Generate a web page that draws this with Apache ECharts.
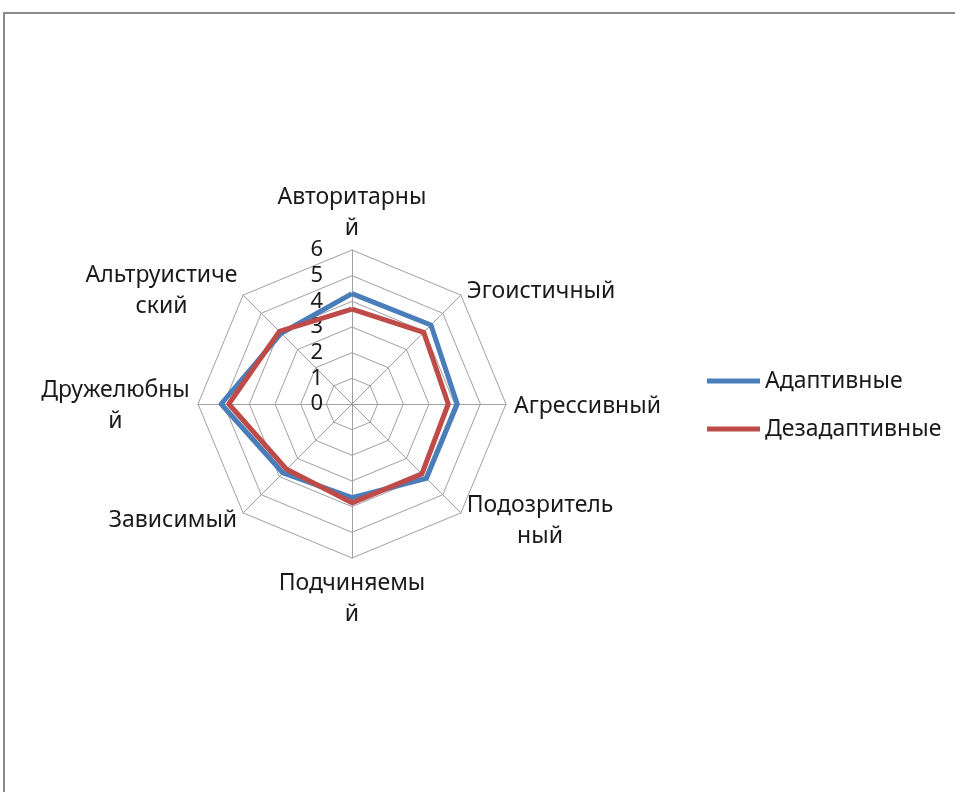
<!DOCTYPE html>
<html lang="ru">
<head>
  <meta charset="UTF-8">
  <title>Radar</title>
  <script src="https://cdn.jsdelivr.net/npm/echarts@6/dist/echarts.min.js"></script>
  <style>
    html, body { margin: 0; padding: 0; background: #fff; }
    #chart { width: 955px; height: 792px; }
  </style>
</head>
<body>
  <div id="chart"></div>
  <script>
    // оси радара (в порядке echarts: от верха против часовой стрелки)
    const categories = [
      'Авторитарны\nй', 'Альтруистиче\nский', 'Дружелюбны\nй', 'Зависимый',
      'Подчиняемы\nй', 'Подозритель\nный', 'Агрессивный', 'Эгоистичный'
    ];
    const adaptive = [4.3, 3.9, 5.1, 3.8, 3.65, 4.1, 4.1, 4.35];
    const disadaptive = [3.7, 4.0, 4.8, 3.6, 3.85, 3.85, 3.75, 3.95];
    const seriesNames = ['Адаптивные', 'Дезадаптивные'];
    const tickLabels = ['0', '1', '2', '3', '4', '5', '6'];

    const chart = echarts.init(document.getElementById('chart'), null, { renderer: 'canvas' });
    const font = '"Noto Sans", sans-serif';
    const nameSize = 23;
    const gridColor = '#a0a0a0';

    // строки подписи центрируются внутри блока шириной самой длинной строки
    const ctx = document.createElement('canvas').getContext('2d');
    ctx.font = nameSize + 'px ' + font;
    const rich = {};
    categories.forEach((c, i) => {
      const w = Math.max(...c.split('\n').map(s => ctx.measureText(s).width));
      rich['n' + i] = { width: Math.ceil(w), align: 'center', fontSize: nameSize, color: '#1a1a1a', fontFamily: font, lineHeight: 31, padding: [4, 0, 0, 0] };
    });

    const option = {
      animation: false,
      backgroundColor: '#fff',
      textStyle: { fontFamily: font },
      graphic: [{
        type: 'rect',
        shape: { x: 4, y: 13, width: 1200, height: 1000 },
        style: { fill: 'none', stroke: '#8c8c8c', lineWidth: 2 },
        silent: true
      }],
      legend: {
        orient: 'vertical',
        left: 707,
        top: 369,
        padding: 0,
        itemWidth: 53,
        itemHeight: 5,
        itemGap: 24,
        icon: 'rect',
        data: seriesNames,
        textStyle: { fontSize: nameSize, color: '#1a1a1a', fontFamily: font, lineHeight: 24, padding: [0, 0, 0, 0] }
      },
      radar: {
        center: [352, 404],
        radius: 154,
        startAngle: 90,
        splitNumber: 6,
        shape: 'polygon',
        indicator: categories.map(n => ({ name: n, min: 0, max: 6 })),
        axisName: {
          color: '#1a1a1a', fontSize: nameSize, fontFamily: font, lineHeight: 31,
          formatter: (name) => {
            const i = categories.indexOf(name);
            return name.split('\n').map(s => '{n' + i + '|' + s + '}').join('\n');
          },
          rich: rich
        },
        nameGap: 8,
        axisLine: { lineStyle: { color: gridColor, width: 1 } },
        splitLine: { lineStyle: { color: gridColor, width: 1 } },
        splitArea: { show: false }
      },
      polar: { center: [352, 404], radius: 154 },
      angleAxis: { startAngle: 90, show: false, min: 0, max: 360 },
      radiusAxis: {
        min: 0, max: 6, interval: 1,
        axisLine: { show: false },
        axisTick: { show: false },
        splitLine: { show: false },
        axisLabel: {
          fontSize: 22, color: '#1a1a1a', fontFamily: font, margin: 29,
          padding: [7, 0, 0, 0],
          formatter: v => tickLabels[v]
        }
      },
      series: [{
        type: 'radar',
        symbol: 'none',
        data: [
          { name: seriesNames[0], value: adaptive, lineStyle: { color: '#4a7ebb', width: 5 }, itemStyle: { color: '#4a7ebb' } },
          { name: seriesNames[1], value: disadaptive, lineStyle: { color: '#be4b48', width: 5 }, itemStyle: { color: '#be4b48' } }
        ]
      }]
    };
    chart.setOption(option);
  </script>
</body>
</html>
